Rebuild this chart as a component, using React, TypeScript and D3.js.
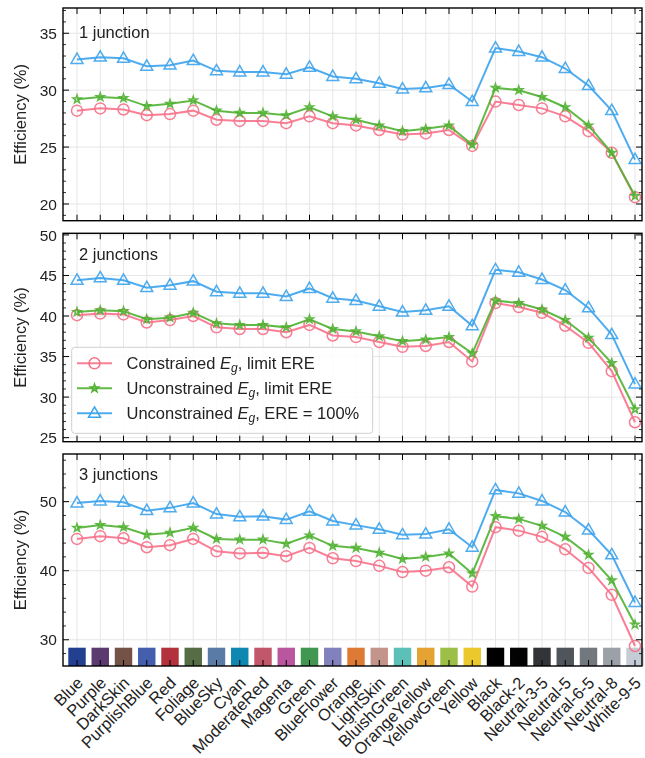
import * as d3 from "d3";
import {useEffect, useRef} from "react";

// colour checker patches along the x axis
const categories = ["Blue", "Purple", "DarkSkin", "PurplishBlue", "Red", "Foliage", "BlueSky", "Cyan",
    "ModerateRed", "Magenta", "Green", "BlueFlower", "Orange", "LightSkin", "BluishGreen", "OrangeYellow",
    "YellowGreen", "Yellow", "Black", "Black-2", "Neutral-3-5", "Neutral-5", "Neutral-6-5", "Neutral-8", "White-9-5"];

const swatchColors = ["#233f92", "#5b3a6f", "#745346", "#435fae", "#b2313c", "#566c44", "#5a7ba5", "#0e88b0",
    "#c2566a", "#b9569e", "#419750", "#8081bd", "#dd7b35", "#c3958a", "#5bc1b8", "#e5a334", "#9cbf48",
    "#ebc82c", "#000000", "#030303", "#323437", "#50545b", "#73777e", "#9ca0a8", "#c6ccd6"];

// 1 junction
const constrained1 = [28.2, 28.4, 28.3, 27.8, 27.9, 28.2, 27.4, 27.3, 27.3, 27.1, 27.7, 27.1, 26.9, 26.5, 26.1, 26.2, 26.5, 25.1, 29.0, 28.7, 28.4, 27.7, 26.4, 24.5, 20.6];
const unconstrained1 = [29.2, 29.4, 29.3, 28.6, 28.8, 29.1, 28.2, 28.0, 28.0, 27.8, 28.5, 27.7, 27.4, 26.9, 26.4, 26.6, 26.9, 25.2, 30.2, 30.0, 29.4, 28.5, 26.9, 24.5, 20.7];
const ere1001 = [32.7, 32.9, 32.8, 32.1, 32.2, 32.6, 31.7, 31.6, 31.6, 31.4, 32.0, 31.2, 31.0, 30.6, 30.1, 30.2, 30.5, 29.0, 33.7, 33.4, 32.9, 31.9, 30.4, 28.2, 23.9];

// 2 junctions
const constrained2 = [40.1, 40.3, 40.2, 39.2, 39.5, 40.0, 38.6, 38.4, 38.4, 38.0, 38.9, 37.6, 37.4, 36.8, 36.2, 36.3, 36.8, 34.4, 41.6, 41.1, 40.4, 38.8, 36.7, 33.2, 26.9];
const unconstrained2 = [40.5, 40.7, 40.6, 39.6, 39.8, 40.4, 39.1, 38.9, 38.9, 38.6, 39.6, 38.4, 38.1, 37.5, 36.9, 37.1, 37.4, 35.4, 41.9, 41.6, 40.8, 39.5, 37.3, 34.2, 28.5];
const ere1002 = [44.4, 44.7, 44.4, 43.5, 43.8, 44.3, 43.0, 42.8, 42.8, 42.4, 43.4, 42.2, 41.9, 41.2, 40.5, 40.7, 41.2, 38.8, 45.7, 45.4, 44.5, 43.2, 41.0, 37.7, 31.6];

// 3 junctions
const constrained3 = [44.6, 45.0, 44.7, 43.4, 43.7, 44.6, 42.8, 42.5, 42.6, 42.1, 43.3, 41.8, 41.4, 40.7, 39.8, 40.0, 40.5, 37.7, 46.3, 45.8, 44.9, 43.1, 40.4, 36.5, 29.1];
const unconstrained3 = [46.2, 46.6, 46.3, 45.2, 45.5, 46.2, 44.6, 44.5, 44.5, 43.9, 45.1, 43.6, 43.3, 42.6, 41.7, 42.0, 42.5, 39.6, 47.9, 47.5, 46.5, 44.9, 42.3, 38.6, 32.2];
const ere1003 = [49.8, 50.1, 49.9, 48.7, 49.1, 49.8, 48.2, 47.8, 47.9, 47.4, 48.6, 47.2, 46.6, 46.0, 45.2, 45.3, 46.0, 43.4, 51.7, 51.2, 50.1, 48.5, 45.9, 42.3, 35.4];

const panelNames = ["1 junction", "2 junctions", "3 junctions"];

const RED = "#f77189", GREEN = "#50b131", BLUE = "#3ba3ec";

export default function App() {
    const ref = useRef<SVGSVGElement>(null);

    useEffect(() => {
        const svg = d3.select(ref.current);
        svg.selectAll("*").remove();

        const left = 63, right = 642;
        const font = "'Liberation Sans', Arial, sans-serif";

        const x = d3.scalePoint<string>().domain(categories).range([77, 635]);
        const step = x.step();

        const panels = [
            {top: 8, bottom: 220.7, domain: [18.53, 37.22], major: [20, 25, 30, 35], minor: 1, labelOff: 30,
                series: [constrained1, unconstrained1, ere1001]},
            {top: 233.3, bottom: 441.7, domain: [24.5, 50.2], major: [25, 30, 35, 40, 45, 50], minor: 1, labelOff: 27,
                series: [constrained2, unconstrained2, ere1002]},
            {top: 454, bottom: 666, domain: [26.2, 56.9], major: [30, 40, 50], minor: 2, labelOff: 26,
                series: [constrained3, unconstrained3, ere1003]},
        ];

        const colors = [RED, GREEN, BLUE];

        const drawMarker = (g: any, kind: number, cx: number, cy: number, c: string) => {
            if (kind === 0) {
                g.append("circle").attr("cx", cx).attr("cy", cy).attr("r", 5.5)
                    .attr("fill", "none").attr("stroke", c).attr("stroke-width", 1.5);
            } else if (kind === 1) {
                g.append("path").attr("d", d3.symbol().type(d3.symbolStar).size(20)())
                    .attr("transform", `translate(${cx},${cy})`)
                    .attr("fill", "none").attr("stroke", c).attr("stroke-width", 1.5);
            } else {
                g.append("path").attr("d", d3.symbol().type(d3.symbolTriangle).size(62)())
                    .attr("transform", `translate(${cx},${cy + 0.5})`)
                    .attr("fill", "none").attr("stroke", c).attr("stroke-width", 1.5);
            }
        };

        panels.forEach((p, pi) => {
            const y = d3.scaleLinear().domain(p.domain).range([p.bottom, p.top]);
            const g = svg.append("g");

            // grid
            categories.forEach((c) => {
                g.append("line").attr("x1", x(c)).attr("x2", x(c)).attr("y1", p.top).attr("y2", p.bottom)
                    .attr("stroke", "#e6e6e6").attr("stroke-width", 1);
            });
            p.major.forEach((v) => {
                g.append("line").attr("x1", left).attr("x2", right).attr("y1", y(v)).attr("y2", y(v))
                    .attr("stroke", "#e6e6e6").attr("stroke-width", 1);
            });

            // colour swatches on the last panel
            if (pi === 2) {
                categories.forEach((c, i) => {
                    g.append("rect")
                        .attr("x", x(c)! - step * 0.375).attr("width", step * 0.75)
                        .attr("y", y(28.85)).attr("height", y(p.domain[0]) - y(28.85))
                        .attr("fill", swatchColors[i]);
                });
            }

            // series
            p.series.forEach((vals, si) => {
                const line = d3.line<number>().x((d, i) => x(categories[i])!).y((d) => y(d));
                g.append("path").datum(vals).attr("d", line).attr("fill", "none")
                    .attr("stroke", colors[si]).attr("stroke-width", 2).attr("opacity", 0.9);
                const mg = g.append("g").attr("opacity", 0.9);
                vals.forEach((v, i) => drawMarker(mg, si, x(categories[i])!, y(v), colors[si]));
            });

            // ticks
            categories.forEach((c) => {
                g.append("line").attr("x1", x(c)).attr("x2", x(c)).attr("y1", p.bottom).attr("y2", p.bottom - 6)
                    .attr("stroke", "#000").attr("stroke-width", 1);
                g.append("line").attr("x1", x(c)).attr("x2", x(c)).attr("y1", p.top).attr("y2", p.top + 6)
                    .attr("stroke", "#000").attr("stroke-width", 1);
            });
            const minors = d3.range(Math.ceil(p.domain[0] / p.minor) * p.minor, p.domain[1], p.minor)
                .filter((v) => !p.major.includes(v));
            minors.forEach((v) => {
                [[left, left + 3], [right, right - 3]].forEach(([a, b]) => {
                    g.append("line").attr("x1", a).attr("x2", b).attr("y1", y(v)).attr("y2", y(v))
                        .attr("stroke", "#000").attr("stroke-width", 0.8);
                });
            });
            p.major.forEach((v) => {
                [[left, left + 6], [right, right - 6]].forEach(([a, b]) => {
                    g.append("line").attr("x1", a).attr("x2", b).attr("y1", y(v)).attr("y2", y(v))
                        .attr("stroke", "#000").attr("stroke-width", 1);
                });
                g.append("text").attr("x", left - 6).attr("y", y(v)).attr("dy", "0.36em")
                    .attr("text-anchor", "end").attr("font-family", font).attr("font-size", 15.5)
                    .attr("fill", "#222").text(v);
            });

            // frame
            g.append("rect").attr("x", left).attr("y", p.top).attr("width", right - left)
                .attr("height", p.bottom - p.top).attr("fill", "none").attr("stroke", "#000")
                .attr("stroke-width", 1.4);

            // panel label
            g.append("text").attr("x", 79).attr("y", p.top + p.labelOff).attr("font-family", font)
                .attr("font-size", 16.5).attr("fill", "#222").text(panelNames[pi]);

            // y label
            g.append("text")
                .attr("transform", `translate(26,${(p.top + p.bottom) / 2}) rotate(-90)`)
                .attr("text-anchor", "middle").attr("font-family", font).attr("font-size", 16.5)
                .attr("fill", "#222").text("Efficiency (%)");
        });

        // x tick labels
        categories.forEach((c) => {
            svg.append("text")
                .attr("transform", `translate(${x(c)! + 7},684) rotate(-45)`)
                .attr("text-anchor", "end").attr("font-family", font).attr("font-size", 16.5)
                .attr("fill", "#222").text(c);
        });

        // legend
        const lg = svg.append("g");
        lg.append("rect").attr("x", 71.7).attr("y", 347.3).attr("width", 301).attr("height", 86).attr("rx", 3)
            .attr("fill", "#fff").attr("fill-opacity", 0.85).attr("stroke", "#d0d0d0").attr("stroke-width", 1);
        const legendItems = [
            {pre: "Constrained ", post: ", limit ERE"},
            {pre: "Unconstrained ", post: ", limit ERE"},
            {pre: "Unconstrained ", post: ", ERE = 100%"},
        ];
        legendItems.forEach((it, i) => {
            const ly = 363.3 + i * 25;
            lg.append("line").attr("x1", 77).attr("x2", 112).attr("y1", ly).attr("y2", ly)
                .attr("stroke", colors[i]).attr("stroke-width", 2).attr("opacity", 0.9);
            drawMarker(lg, i, 94.5, ly, colors[i]);
            const t = lg.append("text").attr("x", 126.5).attr("y", ly + 5.5).attr("font-family", font)
                .attr("font-size", 16.5).attr("fill", "#222");
            t.append("tspan").text(it.pre);
            t.append("tspan").attr("font-style", "italic").text("E");
            t.append("tspan").attr("font-style", "italic").attr("font-size", 12).attr("dy", 3.5).text("g");
            t.append("tspan").attr("dy", -3.5).text(it.post);
        });
    }, []);

    return (
        <svg ref={ref} width={645} height={758}
             style={{position: "absolute", left: 0, top: 0, background: "#fff"}}/>
    );
}
